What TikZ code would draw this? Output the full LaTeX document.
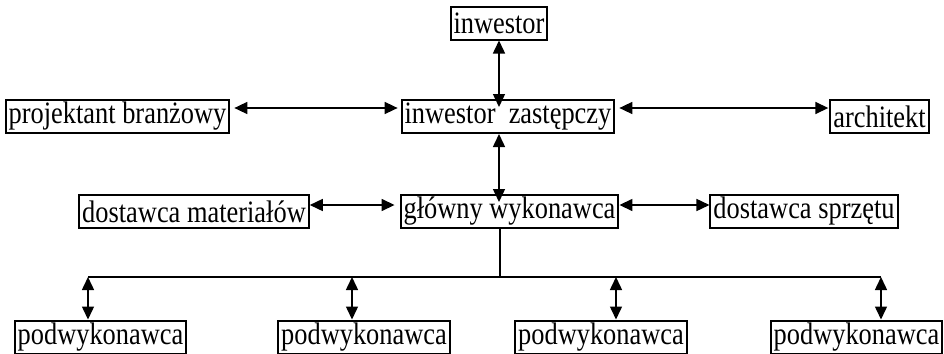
\documentclass[tikz,border=0pt]{standalone}
\usepackage{graphicx}
\usepackage{fontspec}
\setmainfont{Liberation Serif}
\usetikzlibrary{arrows.meta,calc}
\newcommand{\tall}[1]{\scalebox{1}[1.18]{#1}}
\tikzset{
  box/.style={
    draw,
    line width=1pt,
    inner xsep=1.5pt,
    inner ysep=0pt,
    minimum height=16.5pt,
    font=\fontsize{13.2}{15}\selectfont
  },
  link/.style={
    line width=0.75pt,
    {Triangle[length=6.5pt,width=6pt]}-{Triangle[length=6.5pt,width=6pt]}
  },
  bus/.style={
    line width=1pt
  }
}
\begin{document}
\begin{tikzpicture}[x=0.5pt,y=-0.5pt]
    \useasboundingbox (0,0) rectangle (944,354);
    % top levels
    \node[box] (inw) at (499,23) {\tall{inwestor}};
    \node[box] (zast) at (508,116.5) {\tall{inwestor\ \ zastępczy}};
    \node[box] (proj) at (117.5,116.5) {\tall{projektant branżowy}};
    \node[box] (arch) at (879.5,116.5) {\tall{architekt}};
    \node[box] (dm) at (194,211.5) {\tall{dostawca materiałów}};
    \node[box] (glow) at (509.5,211.5) {\tall{główny wykonawca}};
    \node[box] (ds) at (804,211.5) {\tall{dostawca sprzętu}};
    \draw[link] (inw.south) -- ([yshift=-4pt]inw.south |- zast.north);
    \draw[link] (zast.south -| inw) -- ([yshift=-4pt]inw |- glow.north);
    \draw[link,shorten <=2pt,shorten >=1.5pt] ([yshift=4.25pt]proj.east) -- ([yshift=4.25pt]zast.west);
    \draw[link,shorten <=2pt,shorten >=0.5pt] ([yshift=4.25pt]zast.east) -- ([yshift=4.25pt]arch.west);
    \draw[link,shorten >=2.5pt] ([yshift=3.25pt]dm.east) -- ([yshift=3.25pt]glow.west);
    \draw[link] ([yshift=3.25pt]glow.east) -- ([yshift=3.25pt]ds.west);
    % subcontractors
    \coordinate (hub) at (500,277);
    \foreach \x/\tx [count=\i] in {100.5/88,364/352,601/616,856.5/881}{
        \node[box] (p\i) at (\x,337) {\tall{podwykonawca}};
        \coordinate (t\i) at (\tx,277);
        \draw[link] (t\i) -- (t\i |- p\i.north);
    }
    \draw[bus] (t1) -- (t4);
    \draw[line width=0.6pt] (glow.south -| hub) -- (hub);
\end{tikzpicture}
\end{document}
